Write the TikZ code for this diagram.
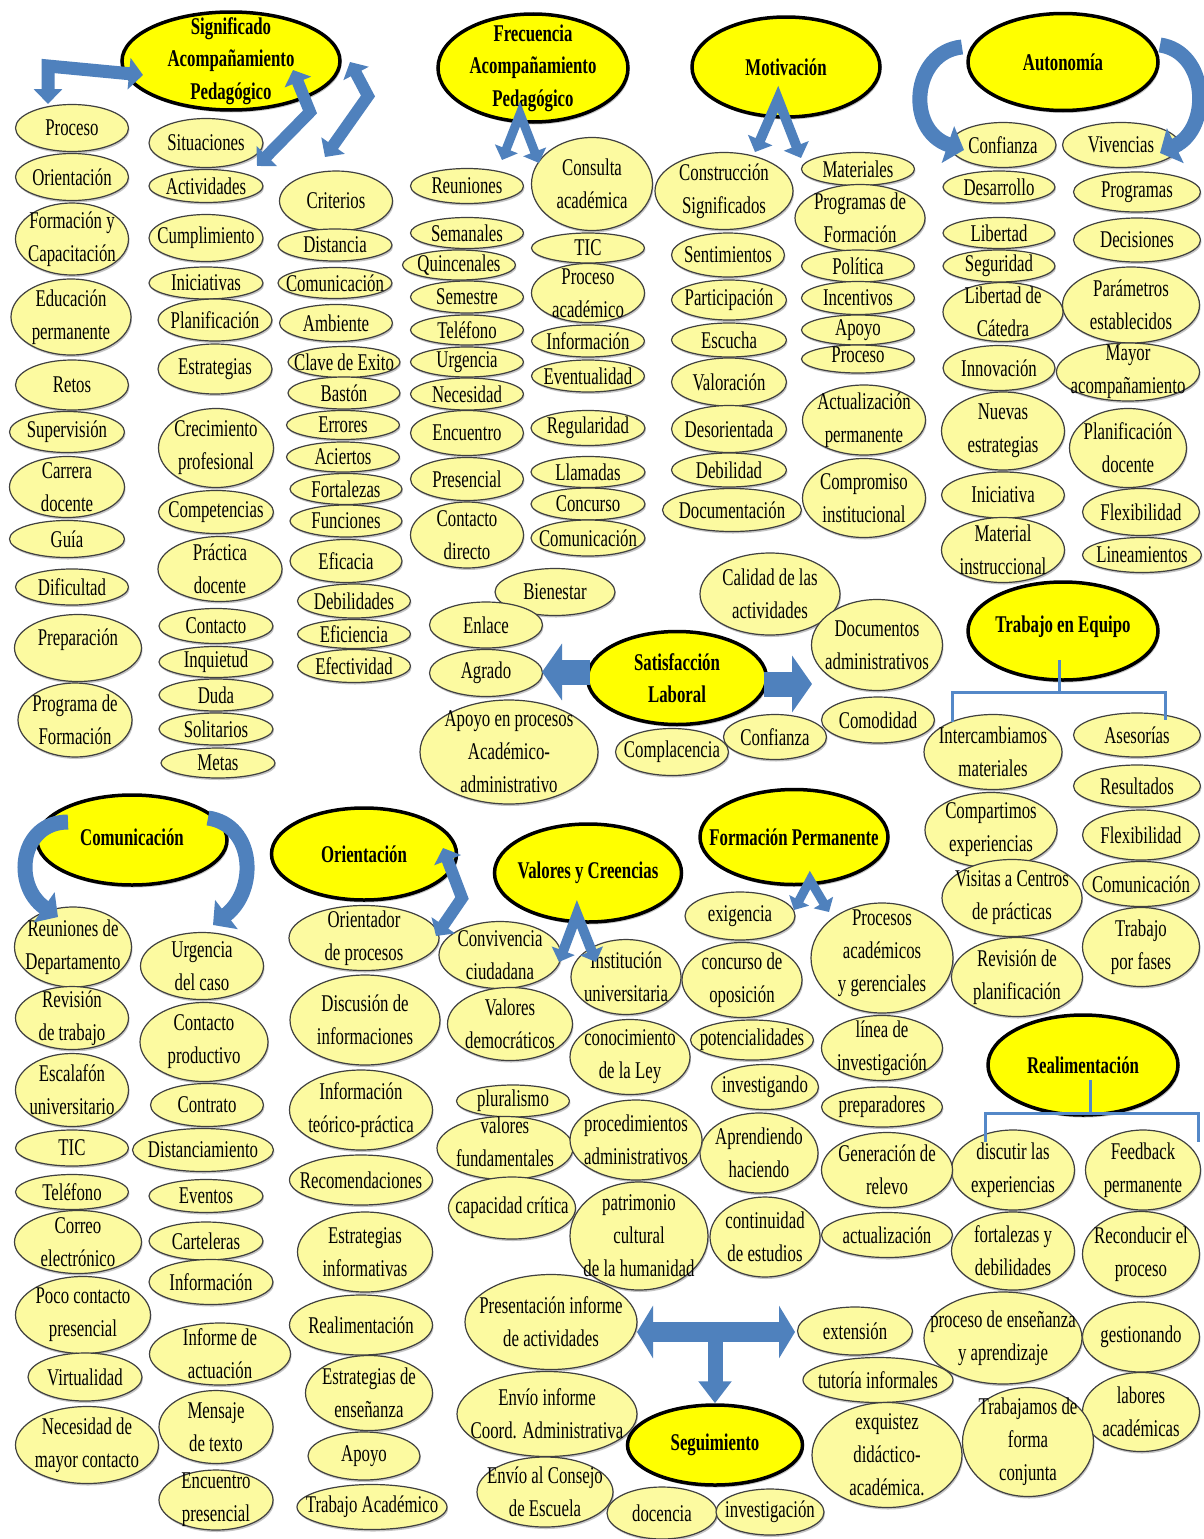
\documentclass[tikz,border=0pt]{standalone}
\usepackage{fontspec}
\setmainfont{Liberation Serif}[FakeStretch=0.7]
\usetikzlibrary{shapes.geometric,shadows,arrows.meta}
\pgfdeclarelayer{background}
\pgfsetlayers{background,main}
\definecolor{bubfill}{RGB}{252,250,160}
\definecolor{headfill}{RGB}{255,255,0}
\definecolor{abl}{RGB}{79,129,189}
\definecolor{lbl}{RGB}{141,179,226}
\definecolor{brkcol}{RGB}{84,136,200}
\tikzset{
  bub/.style={ellipse, draw=black!75, line width=1.2pt, fill=bubfill, inner sep=0pt,
    drop shadow={shadow xshift=1pt, shadow yshift=-2pt, fill=black!45}},
  hd/.style={ellipse, draw=black, line width=3.5pt, fill=headfill, inner sep=0pt,
    drop shadow={shadow xshift=1.5pt, shadow yshift=-2.5pt, fill=black!45}},
  txt/.style={align=center, inner sep=0pt, font=\fontsize{24}{33}\selectfont},
  htxt/.style={align=center, inner sep=0pt, font=\bfseries\fontsize{24}{32.5}\selectfont},
  blk/.style={draw=abl, line join=miter},
  sline/.style={draw=lbl, line width=2pt},
  brk/.style={draw=brkcol, line width=3pt},
}
% \bub[dy]{name}{x}{y}{width}{height}{text}
\newcommand\bub[7][0]{%
  \node[bub, minimum width=#5pt, minimum height=#6pt] (#2) at (#3,#4) {};
  \node[txt] (#2t) at ([yshift=#1pt]#2.center) {#7};}
\newcommand\hd[7][0]{%
  \node[hd, minimum width=#5pt, minimum height=#6pt] (#2) at (#3,#4) {};
  \node[htxt] (#2t) at ([yshift=#1pt]#2.center) {#7};}
\begin{document}
\begin{tikzpicture}[x=1pt,y=-1pt]
\fill[white] (0,0) rectangle (1204,1539);
\useasboundingbox (0,0) rectangle (1204,1539);

% ---------- main concepts, top row
\hd{sig}{231}{61}{218}{98}{Significado\\Acompañamiento\\Pedagógico}
\hd{frec}{533}{68}{190}{108}{Frecuencia\\Acompañamiento\\Pedagógico}
\hd{mot}{786}{67}{188}{100}{Motivación}
\hd{aut}{1063}{62}{190}{97}{Autonomía}

% ---------- column 1
\bub{c1a}{72}{128}{113}{47}{Proceso}
\bub{c1b}{72}{177}{113}{47}{Orientación}
\bub{c1c}{72}{239}{113}{72}{Formación y\\Capacitación}
\bub{c1d}{71}{317}{120}{76}{Educación\\permanente}
\bub{c1e}{72}{385}{113}{50}{Retos}
\bub{c1f}{67}{432}{115}{41}{Supervisión}
\bub{c1g}{67}{487}{115}{61}{Carrera\\docente}
\bub{c1h}{67}{539}{115}{37}{Guía}
\bub{c1i}{72}{587}{113}{36}{Dificultad}
\bub[8]{c1j}{78}{648}{127}{67}{Preparación}
\bub{c1k}{75}{720}{114}{74}{Programa de\\Formación}

% ---------- column 2
\bub{c2a}{206}{143}{114}{49}{Situaciones}
\bub{c2b}{206}{186}{114}{33}{Actividades}
\bub{c2c}{206}{238}{114}{47}{Cumplimiento}
\bub{c2d}{206}{283}{114}{32}{Iniciativas}
\bub{c2e}{215}{320}{114}{42}{Planificación}
\bub{c2f}{215}{369}{114}{50}{Estrategias}
\bub{c2g}{216}{448}{115}{79}{Crecimiento\\profesional}
\bub{c2h}{216}{512}{115}{43}{Competencias}
\bub{c2i}{220}{569}{124}{65}{Práctica\\docente}
\bub{c2j}{216}{626}{114}{35}{Contacto}
\bub{c2k}{216}{662}{114}{31}{Inquietud}
\bub{c2l}{216}{695}{114}{32}{Duda}
\bub{c2m}{216}{729}{114}{32}{Solitarios}
\bub{c2n}{218}{763}{114}{30}{Metas}

% ---------- column 3
\bub{c3a}{336}{201}{113}{60}{Criterios}
\bub{c3b}{335}{245}{114}{32}{Distancia}
\bub{c3c}{335}{283}{114}{31}{Comunicación}
\bub{c3d}{336}{323}{113}{37}{Ambiente}
\bub{c3e}{344}{362}{112}{31}{Clave de Exito}
\bub{c3f}{344}{393}{112}{32}{Bastón}
\bub{c3g}{343}{425}{113}{29}{Errores}
\bub{c3h}{343}{457}{113}{30}{Aciertos}
\bub{c3i}{346}{489}{112}{31}{Fortalezas}
\bub{c3j}{346}{521}{112}{32}{Funciones}
\bub{c3k}{346}{561}{112}{43}{Eficacia}
\bub{c3l}{354}{601}{113}{34}{Debilidades}
\bub{c3m}{354}{634}{113}{29}{Eficiencia}
\bub{c3n}{354}{666}{113}{33}{Efectividad}

% ---------- column 4
\bub{c4a}{467}{186}{113}{35}{Reuniones}
\bub{c4b}{467}{233}{113}{31}{Semanales}
\bub{c4c}{459}{265}{113}{30}{Quincenales}
\bub{c4d}{467}{297}{113}{32}{Semestre}
\bub{c4e}{467}{330}{113}{30}{Teléfono}
\bub{c4f}{467}{362}{113}{30}{Urgencia}
\bub{c4g}{467}{394}{113}{32}{Necesidad}
\bub{c4h}{467}{433}{113}{45}{Encuentro}
\bub{c4i}{467}{479}{113}{43}{Presencial}
\bub{c4j}{467}{535}{113}{66}{Contacto\\directo}

% ---------- column 5
\bub{c5a}{592}{184}{121}{93}{Consulta\\académica}
\bub{c5b}{588}{248}{113}{30}{TIC}
\bub{c5c}{588}{293}{113}{59}{Proceso\\académico}
\bub{c5d}{588}{341}{113}{32}{Información}
\bub{c5e}{588}{376}{113}{32}{Eventualidad}
\bub{c5f}{588}{428}{114}{35}{Regularidad}
\bub{c5g}{588}{472}{114}{31}{Llamadas}
\bub{c5h}{588}{504}{114}{32}{Concurso}
\bub{c5i}{588}{538}{114}{36}{Comunicación}

% ---------- column 6
\bub{c6a}{724}{191}{138}{77}{Construcción\\Significados}
\bub{c6b}{728}{255}{113}{44}{Sentimientos}
\bub{c6c}{729}{300}{115}{40}{Participación}
\bub{c6d}{729}{340}{115}{34}{Escucha}
\bub{c6e}{729}{382}{115}{48}{Valoración}
\bub{c6f}{729}{429}{115}{47}{Desorientada}
\bub{c6g}{729}{470}{115}{34}{Debilidad}
\bub{c6h}{732}{510}{139}{43}{Documentación}

% ---------- column 7
\bub{c7a}{858}{169}{113}{33}{Materiales}
\bub{c7b}{860}{218}{130}{67}{Programas de\\Formación}
\bub{c7c}{858}{266}{113}{32}{Política}
\bub{c7d}{858}{298}{113}{33}{Incentivos}
\bub{c7e}{858}{330}{113}{30}{Apoyo}
\bub[4]{c7f}{858}{359}{113}{28}{Proceso}
\bub{c7g}{864}{420}{123}{70}{Actualización\\permanente}
\bub{c7h}{864}{498}{123}{79}{Compromiso\\institucional}

% ---------- column 8
\bub{c8a}{1003}{145}{106}{45}{Confianza}
\bub{c8b}{999}{187}{112}{32}{Desarrollo}
\bub{c8c}{999}{233}{112}{31}{Libertad}
\bub{c8d}{999}{266}{112}{32}{Seguridad}
\bub{c8e}{1003}{312}{120}{59}{Libertad de\\Cátedra}
\bub{c8f}{999}{368}{112}{45}{Innovación}
\bub{c8g}{1003}{431}{123}{78}{Nuevas\\estrategias}
\bub{c8h}{1003}{495}{123}{46}{Iniciativa}
\bub{c8i}{1003}{550}{123}{65}{Material\\instruccional}

% ---------- column 9
\bub{c9a}{1121}{145}{117}{45}{Vivencias}
\bub{c9b}{1137}{192}{127}{40}{Programas}
\bub{c9c}{1137}{240}{127}{44}{Decisiones}
\bub{c9d}{1131}{305}{137}{76}{Parámetros\\establecidos}
\bub{c9e}{1128}{372}{143}{58}{Mayor\\acompañamiento}
\bub{c9f}{1128}{448}{117}{79}{Planificación\\docente}
\bub{c9g}{1141}{512}{117}{47}{Flexibilidad}
\bub{c9h}{1142}{555}{119}{35}{Lineamientos}

% ---------- Satisfacción Laboral
\bub{s1}{555}{592}{120}{47}{Bienestar}
\bub{s2}{770}{594}{140}{82}{Calidad de las\\actividades}
\bub{s3}{486}{625}{113}{46}{Enlace}
\bub{s4}{486}{673}{113}{47}{Agrado}
\bub{s5}{509}{752}{178}{104}{Apoyo en procesos\\Académico-\\administrativo}
\bub{s8}{877}{645}{131}{91}{Documentos\\administrativos}
\bub{s7}{775}{737}{103}{45}{Confianza}
\bub{s9}{878}{720}{113}{46}{Comodidad}
\bub{s6}{672}{752}{113}{47}{Complacencia}
\hd{sat}{677}{678}{179}{93}{Satisfacción\\Laboral}

% ---------- Trabajo en Equipo
\hd[4]{te}{1063}{631}{190}{98}{Trabajo en Equipo}
\bub{t1}{993}{752}{138}{75}{Intercambiamos\\materiales}
\bub{t2}{1137}{735}{127}{44}{Asesorías}
\bub{t3}{1137}{786}{127}{42}{Resultados}
\bub{t4}{991}{830}{132}{75}{Compartimos\\experiencias}
\bub{t5}{1141}{835}{117}{50}{Flexibilidad}
\bub{t6}{1141}{884}{117}{45}{Comunicación}
\bub{t7}{1012}{898}{140}{77}{Visitas a Centros\\de prácticas}
\bub{t8}{1141}{947}{117}{79}{Trabajo\\por fases}
\bub{t9}{1017}{977}{131}{79}{Revisión de\\planificación}

% ---------- Realimentación
\hd{re}{1083}{1065}{190}{100}{Realimentación}
\bub{r1}{1013}{1170}{123}{80}{discutir las\\experiencias}
\bub{r2}{1143}{1170}{115}{80}{Feedback\\permanente}
\bub{r3}{1013}{1251}{123}{78}{fortalezas y\\debilidades}
\bub{r4}{1141}{1254}{117}{85}{Reconducir el\\proceso}
\bub{r6}{1141}{1337}{117}{70}{gestionando}
\bub{r5}{1003}{1338}{158}{92}{proceso de enseñanza\\y aprendizaje}
\bub{r7}{1141}{1412}{117}{79}{labores\\académicas}
\bub{r8}{1028}{1442}{131}{109}{Trabajamos de\\forma\\conjunta}

% ---------- Formación Permanente
\hd{fp}{794}{837}{188}{95}{Formación Permanente}
\bub{f1}{740}{916}{110}{48}{exigencia}
\bub[5]{f2}{882}{958}{142}{110}{Procesos\\académicos\\y gerenciales}
\bub{f3}{742}{980}{120}{75}{concurso de\\oposición}
\bub{f4}{752}{1040}{123}{40}{potencialidades}
\bub{f5}{882}{1048}{121}{65}{línea de\\investigación}
\bub{f6}{765}{1087}{107}{45}{investigando}
\bub{f7}{882}{1107}{121}{40}{preparadores}
\bub{f8}{759}{1153}{118}{80}{Aprendiendo\\haciendo}
\bub{f9}{887}{1170}{131}{75}{Generación de\\relevo}
\bub{f10}{765}{1237}{110}{80}{continuidad\\de estudios}
\bub{f11}{887}{1235}{131}{45}{actualización}

% ---------- Valores y Creencias
\hd{vc}{588}{873}{187}{98}{Valores y Creencias}
\bub{v1}{500}{955}{122}{67}{Convivencia\\ciudadana}
\bub{v2}{626}{977}{110}{75}{Institución\\universitaria}
\bub{v3}{510}{1024}{125}{73}{Valores\\democráticos}
\bub{v4}{630}{1057}{120}{75}{conocimiento\\de la Ley}
\bub{v5}{513}{1101}{113}{32}{pluralismo}
\bub[6]{v6}{505}{1148}{136}{63}{valores\\fundamentales}
\bub{v7}{636}{1140}{132}{80}{procedimientos\\administrativos}
\bub{v8}{512}{1208}{127}{62}{capacidad crítica}
\bub{v9}{639}{1236}{138}{108}{patrimonio\\cultural\\de la humanidad}

% ---------- Orientación
\hd{or}{364}{854}{185}{92}{Orientación}
\bub{o1}{364}{938}{150}{65}{Orientador\\de procesos}
\bub{o2}{365}{1020}{150}{90}{Discusión de\\informaciones}
\bub{o3}{361}{1110}{143}{80}{Información\\teórico-práctica}
\bub{o4}{361}{1180}{143}{50}{Recomendaciones}
\bub{o5}{365}{1252}{135}{80}{Estrategias\\informativas}
\bub{o6}{361}{1325}{143}{60}{Realimentación}
\bub{o7}{369}{1393}{127}{75}{Estrategias de\\enseñanza}
\bub{o8}{364}{1456}{112}{48}{Apoyo}
\bub{o9}{372}{1507}{150}{45}{Trabajo Académico}

% ---------- Comunicación
\hd[3]{co}{132}{840}{190}{90}{Comunicación}
\bub{k1}{73}{947}{117}{80}{Reuniones de\\Departamento}
\bub{k2}{72}{1018}{113}{63}{Revisión\\de trabajo}
\bub{k3}{72}{1090}{113}{73}{Escalafón\\universitario}
\bub{k4}{72}{1148}{113}{36}{TIC}
\bub{k5}{72}{1192}{113}{35}{Teléfono}
\bub{k6}{78}{1242}{127}{63}{Correo\\electrónico}
\bub{k7}{83}{1315}{135}{77}{Poco contacto\\presencial}
\bub{k8}{85}{1377}{114}{48}{Virtualidad}
\bub{k9}{87}{1445}{143}{77}{Necesidad de\\mayor contacto}
\bub{k10}{202}{966}{123}{67}{Urgencia\\del caso}
\bub{k11}{204}{1042}{128}{79}{Contacto\\productivo}
\bub{k12}{207}{1105}{113}{43}{Contrato}
\bub{k13}{203}{1150}{141}{43}{Distanciamiento}
\bub{k14}{206}{1196}{114}{33}{Eventos}
\bub{k15}{206}{1241}{114}{38}{Carteleras}
\bub{k16}{211}{1282}{124}{45}{Información}
\bub{k17}{220}{1354}{141}{62}{Informe de\\actuación}
\bub{k18}{216}{1427}{114}{73}{Mensaje\\de texto}
\bub{k19}{216}{1500}{114}{60}{Encuentro\\presencial}

% ---------- Seguimiento
\bub{g6}{551}{1322}{172}{95}{Presentación informe\\de actividades}
\bub{g7}{547}{1414}{180}{85}{Envío informe\\Coord. Administrativa}
\bub{g8}{545}{1492}{136}{70}{Envío al Consejo\\de Escuela}
\bub{g1}{855}{1331}{115}{48}{extensión}
\bub{g2}{878}{1380}{150}{45}{tutoría informales}
\bub{g3}{887}{1455}{150}{105}{exquistez\\didáctico-\\académica.}
\hd{sg}{715}{1445}{175}{80}{Seguimiento}
\bub{g5}{662}{1513}{110}{52}{docencia}
\bub{g4}{770}{1512}{108}{46}{investigación}

% ---------- thin connectors and brackets behind the bubbles
\begin{pgfonlayer}{background}
  \draw[sline] (sat.126) -- (s1.-10);
  \draw[sline] (sat.115) -- (s2.180);
  \draw[sline] (sat.209) -- (s5.17);
  \coordinate (orT) at (307,887);
  \coordinate (orB) at (308,1483);
  \coordinate (orX) at (285,0);
  \draw[brk] (orT) -| (orX |- orB) -- (orB);
  \draw[brk] (k14.east) -- (k14.east -| orX);
\end{pgfonlayer}

% ---------- brackets below the group heads
\coordinate (tetop) at (1059,660);
\coordinate (teb) at (1059,692);
\coordinate (teL) at (952,722);
\coordinate (teR) at (1165,720);
\draw[brk] (tetop) -- (teb);
\draw[brk] (teL) |- (teb) -| (teR);
\coordinate (retop) at (1090,1080);
\coordinate (reb) at (1090,1113);
\coordinate (reL) at (985,1142);
\coordinate (reR) at (1198,1142);
\draw[brk] (retop) -- (reb);
\draw[brk] (reL) |- (reb) -| (reR);

% ---------- block arrows
% Significado: bent arrow to Proceso
\coordinate (a1s) at (143,75);
\coordinate (a1m) at (48,66);
\coordinate (a1e) at (48,104);
\draw[blk, line width=13pt, {Triangle[length=14pt,width=31pt]}-{Triangle[length=15pt,width=28pt]}] (a1s) -- (a1m) -- (a1e);
% Significado: zigzag arrows
\coordinate (a2s) at (293,70);
\coordinate (a2m) at (310,112);
\coordinate (a2e) at (257,166);
\draw[blk, line width=12pt, {Triangle[length=13pt,width=28pt]}-{Triangle[length=14pt,width=28pt]}] (a2s) -- (a2m) -- (a2e);
\coordinate (a3s) at (350,62);
\coordinate (a3m) at (368,96);
\coordinate (a3e) at (325,157);
\draw[blk, line width=12pt, {Triangle[length=13pt,width=28pt]}-{Triangle[length=14pt,width=28pt]}] (a3s) -- (a3m) -- (a3e);
% Frecuencia and Motivación chevrons
\coordinate (a4l) at (502,160);
\coordinate (a4p) at (520,114);
\coordinate (a4r) at (539,163);
\draw[blk, line width=9pt, {Triangle[length=12pt,width=24pt]}-{Triangle[length=12pt,width=24pt]}] (a4l) -- (a4p) -- (a4r);
\coordinate (a5l) at (755,152);
\coordinate (a5p) at (778,99);
\coordinate (a5r) at (801,158);
\draw[blk, line width=10pt, {Triangle[length=13pt,width=26pt]}-{Triangle[length=13pt,width=26pt]}] (a5l) -- (a5p) -- (a5r);
% Autonomía curved arrows
\coordinate (a6s) at (962,47);
\coordinate (a6e) at (964,150);
\draw[blk, line width=15pt, -{Triangle[length=17pt,width=38pt]}] (a6s) .. controls (912,52) and (905,130) .. (a6e);
\coordinate (a7s) at (1160,45);
\coordinate (a7e) at (1160,153);
\draw[blk, line width=15pt, -{Triangle[length=17pt,width=38pt]}] (a7s) .. controls (1208,52) and (1212,128) .. (a7e);
% Satisfacción Laboral side arrows
\draw[blk, line width=25pt, -{Triangle[length=20pt,width=56pt]}] (sat.west) ++(4,-6) -- (542,672);
\draw[blk, line width=25pt, -{Triangle[length=20pt,width=56pt]}] (sat.east) ++(-4,6) -- (812,684);
% Comunicación curved arrows
\coordinate (a8s) at (68,822);
\coordinate (a8e) at (58,917);
\draw[blk, line width=15pt, -{Triangle[length=17pt,width=36pt]}] (a8s) .. controls (20,822) and (12,885) .. (a8e);
\coordinate (a9s) at (208,818);
\coordinate (a9e) at (213,925);
\draw[blk, line width=15pt, -{Triangle[length=17pt,width=36pt]}] (a9s) .. controls (255,825) and (258,890) .. (a9e);
% Orientación zigzag arrow
\coordinate (a10s) at (443,848);
\coordinate (a10m) at (462,898);
\coordinate (a10e) at (436,936);
\draw[blk, line width=12pt, {Triangle[length=13pt,width=28pt]}-{Triangle[length=13pt,width=28pt]}] (a10s) -- (a10m) -- (a10e);
% Valores y Creencias and Formación Permanente chevrons
\coordinate (a11l) at (559,962);
\coordinate (a11p) at (577,914);
\coordinate (a11r) at (596,962);
\draw[blk, line width=10pt, {Triangle[length=12pt,width=24pt]}-{Triangle[length=12pt,width=24pt]}] (a11l) -- (a11p) -- (a11r);
\coordinate (a12l) at (794,910);
\coordinate (a12p) at (810,880);
\coordinate (a12r) at (829,912);
\draw[blk, line width=9pt, {Triangle[length=11pt,width=22pt]}-{Triangle[length=11pt,width=22pt]}] (a12l) -- (a12p) -- (a12r);
% Seguimiento T arrow
\coordinate (a13l) at (637,1332);
\coordinate (a13r) at (795,1332);
\coordinate (a13t) at (715,1330);
\draw[blk, line width=20pt, {Triangle[length=16pt,width=52pt]}-{Triangle[length=16pt,width=52pt]}] (a13l) -- (a13r);
\draw[blk, line width=15pt, -{Triangle[length=22pt,width=32pt]}] (a13t) -- (sg.north);
\end{tikzpicture}
\end{document}
